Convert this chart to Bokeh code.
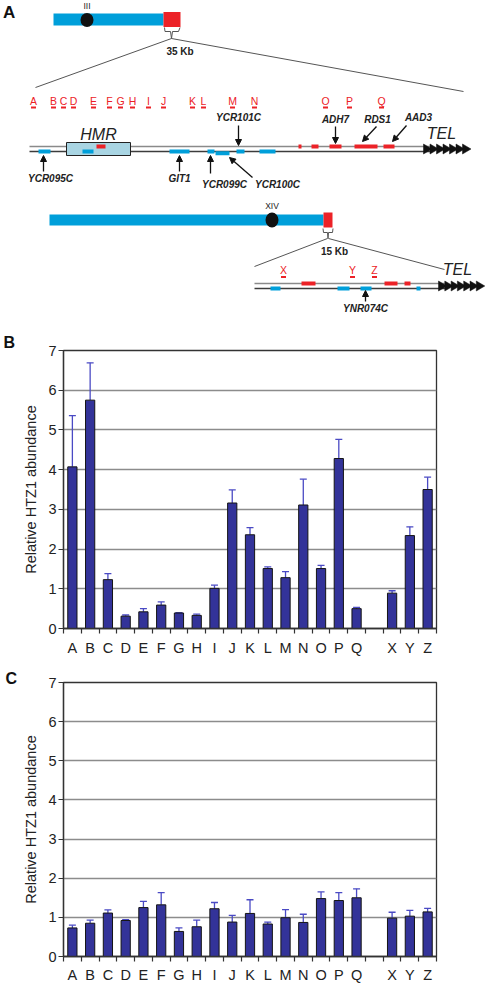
from bokeh.plotting import figure
from bokeh.models import (Range1d, ColumnDataSource, Whisker, TeeHead, FixedTicker,
                          Arrow, NormalHead)
from bokeh.core.properties import value
from bokeh.embed import file_html
from bokeh.resources import INLINE

FONT = "Liberation Sans"

# ---------------- data ----------------
chr3_sites = ["A", "B", "C", "D", "E", "F", "G", "H", "I", "J", "K", "L", "M", "N", "O", "P", "Q"]
chr14_sites = ["X", "Y", "Z"]
slots = chr3_sites + [""] + chr14_sites
sites = chr3_sites + chr14_sites

# Panel B (relative HTZ1 abundance) and upper error
b_values = [4.07, 5.75, 1.23, 0.31, 0.42, 0.59, 0.39, 0.33, 1.01, 3.16,
            2.36, 1.51, 1.28, 3.11, 1.51, 4.28, 0.50, 0.89, 2.34, 3.50]
b_errors = [1.29, 0.94, 0.15, 0.03, 0.08, 0.08, 0.01, 0.03, 0.08, 0.33,
            0.18, 0.04, 0.15, 0.65, 0.08, 0.48, 0.03, 0.06, 0.22, 0.31]
# Panel C
c_values = [0.73, 0.85, 1.11, 0.92, 1.25, 1.32, 0.64, 0.76, 1.22, 0.88,
            1.10, 0.83, 0.99, 0.87, 1.48, 1.43, 1.50, 0.98, 1.03, 1.14]
c_errors = [0.07, 0.08, 0.08, 0.02, 0.16, 0.31, 0.09, 0.17, 0.16, 0.17,
            0.35, 0.05, 0.21, 0.21, 0.17, 0.20, 0.23, 0.15, 0.15, 0.09]
y_ticks = [0, 1, 2, 3, 4, 5, 6, 7]
y_label = "Relative HTZ1 abundance"

# ---------------- panel A schematic layout ----------------
BLUE = "#009fda"
RED = "#ec2227"
site_x_chr3 = [33, 53, 63, 73, 93, 109, 120, 132, 148, 163, 192, 203, 232, 254, 325, 349, 381]
site_y_chr3 = 100
site_x_chr14 = [283, 352, 374]
site_y_chr14 = 269.5

chrom_arm = dict(left=[53, 49], right=[163, 323], top=[13, 214], bottom=[25, 225])
chrom_end = dict(left=[163, 323], right=[180, 332], top=[11.5, 212], bottom=[26.5, 227])
centromere = dict(x=[86.5, 271.5], y=[19.5, 219.5], w=[13, 13], h=[14, 15])
chrom_names = dict(x=[86.5, 271.5], y=[5.5, 205], t=["III", "XIV"])

s = figure(width=487, height=330, x_range=Range1d(0, 487), y_range=Range1d(330, 0),
           output_backend="svg", toolbar_location=None, min_border=0,
           x_axis_type=None, y_axis_type=None)
s.grid.visible = False
s.outline_line_color = None

# zoom lines and brackets
s.multi_line(xs=[[171, 35], [171, 463], [327, 254], [328, 444]],
             ys=[[38, 87], [38, 91], [238, 266], [238, 269]],
             line_color="#555555", line_width=1)
s.multi_line(xs=[[164, 164.5, 170, 171, 172, 178, 179.5], [322.5, 323, 327, 327.5, 328, 332, 332.5]],
             ys=[[27, 31, 31, 38, 31, 31, 27], [228, 232, 232, 238, 232, 232, 228]],
             line_color="#555555", line_width=1)

# chromosomes
s.quad(source=ColumnDataSource(chrom_arm), left="left", right="right", top="top", bottom="bottom",
       fill_color=BLUE, line_color=None)
s.quad(source=ColumnDataSource(chrom_end), left="left", right="right", top="top", bottom="bottom",
       fill_color=RED, line_color=None)
s.ellipse(source=ColumnDataSource(centromere), x="x", y="y", width="w", height="h",
          fill_color="#111111", line_color=None)
s.text(source=ColumnDataSource(chrom_names), x="x", y="y", text="t", text_font=value(FONT),
       text_font_size="8.5px", text_align="center", text_baseline="middle", text_color="#222222")
s.text(x=[179.5, 334], y=[51, 251], text=["35 Kb", "15 Kb"], text_font=value(FONT),
       text_font_size="10px", text_font_style="bold", text_align="center",
       text_baseline="middle", text_color="#222222")

# zoomed double lines
s.multi_line(xs=[[29, 430], [254, 445]], ys=[[146, 146], [283, 283]], line_color="#8a8a8a", line_width=1.5)
s.multi_line(xs=[[29, 430], [254, 445]], ys=[[151, 151], [288, 288]], line_color="#3c3c3c", line_width=1.5)

# HMR box
s.quad(left=[66], right=[130], top=[142], bottom=[155], fill_color="#a9d5e3", line_color="#222222", line_width=1)
s.text(x=[98], y=[133.5], text=["HMR"], text_font=value(FONT), text_font_size="16px",
       text_font_style="italic", text_align="center", text_baseline="middle", text_color="#222222")

# genes
blue_genes = dict(left=[38, 82, 169, 207, 215, 236, 259, 270, 337, 360, 416],
                  right=[50, 93, 189, 214, 229, 244, 275, 280, 349, 371, 420],
                  yc=[151, 151, 151, 151, 152.8, 151, 151, 288, 288, 288, 288])
red_genes = dict(left=[96, 298, 311, 329, 354, 383, 301, 384, 404],
                 right=[105, 301, 318, 341, 377, 394, 315, 397, 410],
                 yc=[146, 146, 146, 146, 146, 146, 283, 283, 283])
bg = ColumnDataSource(dict(left=blue_genes["left"], right=blue_genes["right"],
                           top=[y - 2 for y in blue_genes["yc"]], bottom=[y + 2 for y in blue_genes["yc"]]))
rg = ColumnDataSource(dict(left=red_genes["left"], right=red_genes["right"],
                           top=[y - 2 for y in red_genes["yc"]], bottom=[y + 2 for y in red_genes["yc"]]))
s.quad(source=bg, left="left", right="right", top="top", bottom="bottom", fill_color=BLUE, line_color=None)
s.quad(source=rg, left="left", right="right", top="top", bottom="bottom", fill_color=RED, line_color=None)

# telomere arrowheads
tel_xs, tel_ys = [], []
for start, step, yc in [(423, 6.5, 148.5), (438, 6.3, 285.5)]:
    for i in range(7):
        x0 = start + i * step
        tel_xs.append([x0, x0 + 8.5, x0])
        tel_ys.append([yc - 5, yc, yc + 5])
s.patches(xs=tel_xs, ys=tel_ys, fill_color="#111111", line_color="#111111", line_width=0.5)
s.text(x=[441, 457], y=[133, 269], text=["TEL", "TEL"], text_font=value(FONT), text_font_size="16px",
       text_font_style="italic", text_align="center", text_baseline="middle", text_color="#222222")

# site labels
site_src = ColumnDataSource(dict(
    x=site_x_chr3 + site_x_chr14,
    y=[site_y_chr3] * len(site_x_chr3) + [site_y_chr14] * len(site_x_chr14),
    t=sites))
s.text(source=site_src, x="x", y="y", text="t", text_font=value(FONT), text_font_size="10.5px",
       text_align="center", text_baseline="middle", text_color=RED)
dash_src = ColumnDataSource(dict(
    left=[x - 2.5 for x in site_x_chr3 + site_x_chr14],
    right=[x + 2.5 for x in site_x_chr3 + site_x_chr14],
    top=[site_y_chr3 + 6] * len(site_x_chr3) + [site_y_chr14 + 6] * len(site_x_chr14),
    bottom=[site_y_chr3 + 8] * len(site_x_chr3) + [site_y_chr14 + 8] * len(site_x_chr14)))
s.quad(source=dash_src, left="left", right="right", top="top", bottom="bottom", fill_color=RED, line_color=None)

# gene labels and arrows
gene_labels = dict(x=[50, 179, 224, 277, 238, 335, 377, 418, 365],
                   y=[178, 178, 184, 184, 117, 119, 119, 117, 308],
                   t=["YCR095C", "GIT1", "YCR099C", "YCR100C", "YCR101C", "ADH7", "RDS1", "AAD3", "YNR074C"])
s.text(source=ColumnDataSource(gene_labels), x="x", y="y", text="t", text_font=value(FONT),
       text_font_size="10px", text_font_style="bold italic", text_align="center",
       text_baseline="middle", text_color="#222222")
arrows = dict(x0=[43, 179, 210, 252, 238, 335, 376, 406, 365],
              y0=[171, 171, 173, 177, 125, 126, 126, 125, 301],
              x1=[43, 179, 210, 229, 238, 335, 362, 392, 365],
              y1=[155, 155, 155, 157, 145, 143, 141, 141, 290])
s.add_layout(Arrow(source=ColumnDataSource(arrows), x_start="x0", y_start="y0", x_end="x1", y_end="y1",
                   line_color="#111111", line_width=1.3,
                   end=NormalHead(size=6, fill_color="#111111", line_color="#111111")))
s.text(x=[2.5], y=[12], text=["A"], text_font=value(FONT), text_font_size="17px", text_font_style="bold",
       text_align="left", text_baseline="middle", text_color="#111111")


# ---------------- bar panels ----------------
def bar_panel(vals, errs, letter, height, top_border, bottom_border, letter_offset, letter_standoff,
              label_standoff):
    xs = [slots.index(c) + 1 for c in sites]
    src = ColumnDataSource(dict(x=xs, top=vals, lower=vals,
                                upper=[v + e for v, e in zip(vals, errs)]))
    p = figure(width=487, height=height, x_range=Range1d(0.5, len(slots) + 0.5), y_range=Range1d(0, 7),
               output_backend="svg", toolbar_location=None,
               min_border_left=63, min_border_right=51, min_border_top=top_border,
               min_border_bottom=bottom_border)
    p.title.text = letter
    p.title.align = "left"
    p.title.offset = letter_offset
    p.title.standoff = letter_standoff
    p.title.text_font = FONT
    p.title.text_font_size = "16px"
    p.title.text_font_style = "bold"
    p.title.text_color = "#111111"
    p.xgrid.visible = False
    p.ygrid.grid_line_color = "#8c8c8c"
    p.ygrid.grid_line_width = 1.3
    p.outline_line_color = "#333333"
    p.outline_line_width = 1.3
    p.add_layout(Whisker(source=src, base="x", upper="upper", lower="lower",
                         line_color="#4a4ac4", line_width=1.3,
                         upper_head=TeeHead(size=7, line_color="#4a4ac4", line_width=1.3),
                         lower_head=None))
    p.vbar(x="x", top="top", bottom=0, width=0.52, source=src,
           fill_color="#333399", line_color="#151515", line_width=1)

    p.xaxis.ticker = FixedTicker(ticks=xs, minor_ticks=[i + 0.5 for i in range(len(slots) + 1)])
    p.xaxis.major_label_overrides = {x: c for x, c in zip(xs, sites)}
    p.xaxis.major_tick_out = 0
    p.xaxis.major_tick_in = 0
    p.xaxis.minor_tick_out = 5
    p.xaxis.minor_tick_in = 0
    p.xaxis.minor_tick_line_color = "#333333"
    p.xaxis.minor_tick_line_width = 1.2
    p.xaxis.major_label_standoff = label_standoff
    p.yaxis.ticker = FixedTicker(ticks=y_ticks)
    p.yaxis.major_tick_out = 5
    p.yaxis.major_tick_in = 0
    p.yaxis.major_label_standoff = 2
    p.yaxis.axis_label = y_label
    p.yaxis.axis_label_standoff = 6
    p.yaxis.axis_label_text_font_style = "normal"
    p.yaxis.axis_label_text_font_size = "14.5px"
    p.yaxis.axis_label_text_font = FONT
    p.yaxis.axis_label_text_color = "#222222"
    for ax in (p.xaxis, p.yaxis):
        ax.axis_line_color = "#333333"
        ax.axis_line_width = 1.3
        ax.major_tick_line_color = "#333333"
        ax.major_label_text_font = FONT
        ax.major_label_text_font_size = "14.5px"
        ax.major_label_text_color = "#222222"
    return p


pb = bar_panel(b_values, b_errors, "B", 328, 20, 29, -60, 0, 6)
pc = bar_panel(c_values, c_errors, "C", 327, 24, 24, -58, -8, 5)

open("out.html", "w").write(file_html([s, pb, pc], INLINE))
